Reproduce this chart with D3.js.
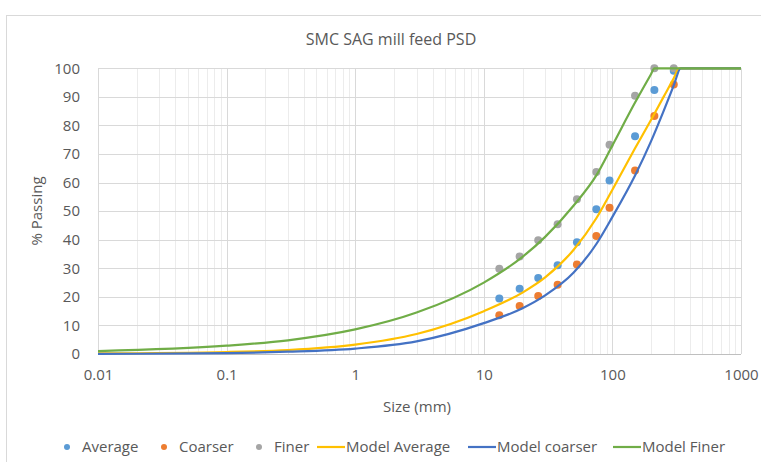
<!DOCTYPE html>
<html>
    <head>
        <meta charset="utf-8" />
        <script src="https://d3js.org/d3.v7.min.js"></script>
        <style type="text/css">
            body {
                margin: 0;
                background-color: white;
            }

            svg#mainSvg {
                width: 761px;
                height: 462px;
                font-family: "Open Sans", sans-serif;
            }

            .lbl {
                fill: #595959;
            }
        </style>
    </head>

    <body>
        <svg id="mainSvg"></svg>

        <!-- Data -->
        <script type="text/javascript">
            // Sieve sizes (mm) of the measured points
            const sieveSizes = [13.2, 19, 26.5, 37.5, 53, 75, 95, 150, 212, 300];
            const average = [19.4, 22.8, 26.6, 31.1, 39.1, 50.7, 60.7, 76.2, 92.4, 99.1];
            const coarser = [13.6, 16.8, 20.3, 24.2, 31.3, 41.3, 51.2, 64.2, 83.3, 94.3];
            const finer = [29.8, 34.1, 39.8, 45.4, 54.2, 63.7, 73.2, 90.4, 100, 100];

            // Model curves, read at a few sizes each
            const modelAvgSizes = [0.01, 0.1, 0.3, 1, 3, 10, 20, 30, 50, 75, 100, 150, 200, 250, 300, 330, 1000];
            const modelAvg = [0.2, 0.7, 1.4, 3.3, 7, 15, 21.5, 26.8, 36.5, 47.5, 57.5, 72, 82, 90, 96.5, 100, 100];

            const modelCoarserSizes = [0.01, 0.1, 0.3, 1, 3, 10, 20, 30, 50, 75, 100, 150, 200, 250, 300, 340, 1000];
            const modelCoarser = [0.05, 0.3, 0.8, 1.9, 4.4, 10.8, 16, 20.5, 28.5, 38.5, 48, 62.5, 74.5, 85, 94, 100, 100];

            const modelFinerSizes = [0.01, 0.1, 0.3, 1, 3, 10, 20, 30, 50, 75, 100, 150, 200, 212, 1000];
            const modelFiner = [1.0, 2.9, 4.8, 8.6, 14.5, 25, 34, 41, 52, 62.5, 73, 88, 98, 100, 100];

            const xTicks = [0.01, 0.1, 1, 10, 100, 1000];
            const yTicks = [0, 10, 20, 30, 40, 50, 60, 70, 80, 90, 100];
        </script>

        <!-- Frame, scales and grid -->
        <script type="text/javascript">
            const svg = d3.select("#mainSvg");

            const plotLeft = 98,
                plotRight = 741,
                plotTop = 68.3,
                plotBottom = 354;

            const x = d3.scaleLog().domain([0.01, 1000]).range([plotLeft, plotRight]);
            const y = d3.scaleLinear().domain([0, 100]).range([plotBottom, plotTop]);

            // Outer chart border
            svg.append("rect")
                .attr("x", 6.5)
                .attr("y", 15.5)
                .attr("width", 800)
                .attr("height", 500)
                .attr("fill", "white")
                .attr("stroke", "#d9d9d9");

            // Title
            svg.append("text")
                .attr("class", "lbl")
                .attr("x", 391)
                .attr("y", 45)
                .attr("text-anchor", "middle")
                .style("font-size", "16px")
                .text("SMC SAG mill feed PSD");

            // Minor vertical grid (2..9 in every decade)
            let minor = [];
            for (let d = 0.01; d < 999; d *= 10) {
                for (let k = 2; k <= 9; k++) minor.push(d * k);
            }
            const grid = svg.append("g");
            grid.selectAll("line.minor")
                .data(minor)
                .enter()
                .append("line")
                .attr("x1", (d) => Math.round(x(d)) + 0.5)
                .attr("x2", (d) => Math.round(x(d)) + 0.5)
                .attr("y1", plotTop)
                .attr("y2", plotBottom)
                .attr("stroke", "#ececec");

            // Major vertical grid
            grid.selectAll("line.major")
                .data(xTicks)
                .enter()
                .append("line")
                .attr("x1", (d) => Math.round(x(d)) + 0.5)
                .attr("x2", (d) => Math.round(x(d)) + 0.5)
                .attr("y1", plotTop)
                .attr("y2", plotBottom)
                .attr("stroke", "#d9d9d9");

            // Horizontal grid
            grid.selectAll("line.h")
                .data(yTicks.slice(1))
                .enter()
                .append("line")
                .attr("x1", plotLeft)
                .attr("x2", plotRight)
                .attr("y1", (d) => Math.round(y(d)) + 0.5)
                .attr("y2", (d) => Math.round(y(d)) + 0.5)
                .attr("stroke", "#d9d9d9");

            // Bottom axis line
            grid.append("line")
                .attr("x1", plotLeft)
                .attr("x2", plotRight)
                .attr("y1", Math.round(plotBottom) + 0.5)
                .attr("y2", Math.round(plotBottom) + 0.5)
                .attr("stroke", "#bfbfbf");

            // Tick labels, made with d3 axes then cleaned up
            const yAxis = svg.append("g")
                .attr("transform", "translate(" + plotLeft + ",0)")
                .call(d3.axisLeft(y).tickValues(yTicks).tickSize(0).tickPadding(18));
            yAxis.select(".domain").remove();
            yAxis.selectAll("text")
                .attr("class", "lbl")
                .style("font-size", "15px")
                .style("font-family", "Open Sans, sans-serif");

            const xAxis = svg.append("g")
                .attr("transform", "translate(0," + plotBottom + ")")
                .call(
                    d3.axisBottom(x)
                        .tickValues(xTicks)
                        .tickFormat((d) => String(d))
                        .tickSize(0)
                        .tickPadding(15)
                );
            xAxis.select(".domain").remove();
            xAxis.selectAll("text")
                .attr("class", "lbl")
                .style("font-size", "15px")
                .style("font-family", "Open Sans, sans-serif");

            // Axis titles
            svg.append("text")
                .attr("class", "lbl")
                .attr("x", 417)
                .attr("y", 412)
                .attr("text-anchor", "middle")
                .style("font-size", "15px")
                .text("Size (mm)");

            svg.append("text")
                .attr("class", "lbl")
                .attr("transform", "translate(42,211) rotate(-90)")
                .attr("text-anchor", "middle")
                .style("font-size", "15px")
                .text("% Passing");
        </script>

        <!-- Points and model lines -->
        <script type="text/javascript">
            const plot = svg.append("g");

            const pointSeries = [
                { vals: average, color: "#5B9BD5" },
                { vals: coarser, color: "#ED7D31" },
                { vals: finer, color: "#A5A5A5" },
            ];

            pointSeries.forEach((s) => {
                plot.append("g")
                    .selectAll("circle")
                    .data(sieveSizes.map((d, i) => [d, s.vals[i]]))
                    .enter()
                    .append("circle")
                    .attr("cx", (d) => x(d[0]))
                    .attr("cy", (d) => y(d[1]))
                    .attr("r", 4)
                    .attr("fill", s.color);
            });

            // Smooth line through the read values
            const line = d3
                .line()
                .x((d) => x(d[0]))
                .y((d) => y(d[1]))
                .curve(d3.curveMonotoneX);

            const lineSeries = [
                { sizes: modelAvgSizes, vals: modelAvg, color: "#FFC000" },
                { sizes: modelCoarserSizes, vals: modelCoarser, color: "#4472C4" },
                { sizes: modelFinerSizes, vals: modelFiner, color: "#70AD47" },
            ];

            lineSeries.forEach((s) => {
                plot.append("path")
                    .datum(s.sizes.map((d, i) => [d, s.vals[i]]))
                    .attr("d", line)
                    .attr("fill", "none")
                    .attr("stroke", s.color)
                    .attr("stroke-width", 2.2);
            });
        </script>

        <!-- Legend -->
        <script type="text/javascript">
            const legendY = 447;
            const legendItems = [
                { name: "Average", kind: "dot", color: "#5B9BD5", x: 67 },
                { name: "Coarser", kind: "dot", color: "#ED7D31", x: 164 },
                { name: "Finer", kind: "dot", color: "#A5A5A5", x: 259 },
                { name: "Model Average", kind: "line", color: "#FFC000", x: 317 },
                { name: "Model coarser", kind: "line", color: "#4472C4", x: 468 },
                { name: "Model Finer", kind: "line", color: "#70AD47", x: 613 },
            ];

            const leg = svg.append("g");
            legendItems.forEach((it) => {
                let tx;
                if (it.kind === "dot") {
                    leg.append("circle")
                        .attr("cx", it.x)
                        .attr("cy", legendY)
                        .attr("r", 3)
                        .attr("fill", it.color);
                    tx = it.x + 15;
                } else {
                    leg.append("line")
                        .attr("x1", it.x)
                        .attr("x2", it.x + 28)
                        .attr("y1", legendY)
                        .attr("y2", legendY)
                        .attr("stroke", it.color)
                        .attr("stroke-width", 2.2);
                    tx = it.x + 29;
                }
                leg.append("text")
                    .attr("class", "lbl")
                    .attr("x", tx)
                    .attr("y", legendY + 5)
                    .style("font-size", "15px")
                    .text(it.name);
            });
        </script>
    </body>
</html>
